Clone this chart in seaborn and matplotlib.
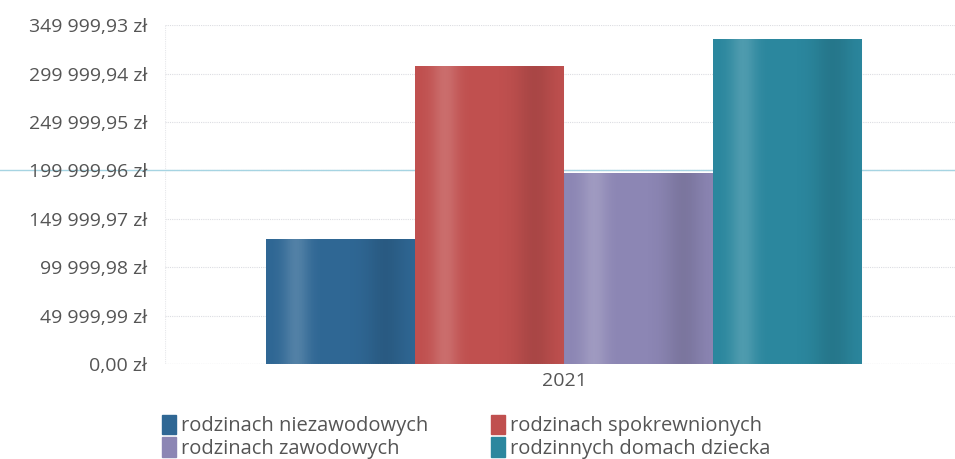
import numpy as np
import pandas as pd
import matplotlib
matplotlib.use("Agg")
import matplotlib.pyplot as plt
import seaborn as sns

years = ["2021", "2021", "2021", "2021"]
groups = ["rodzinach niezawodowych", "rodzinach spokrewnionych",
          "rodzinach zawodowych", "rodzinnych domach dziecka"]
values = [129500, 308000, 197500, 335500]
colors = ["#2f6794", "#c0504f", "#8c86b4", "#2b879e"]

tick_vals = [0.00, 49999.99, 99999.98, 149999.97, 199999.96, 249999.95, 299999.94, 349999.93]
tick_labels = ["0,00 zł", "49 999,99 zł", "99 999,98 zł", "149 999,97 zł",
               "199 999,96 zł", "249 999,95 zł", "299 999,94 zł", "349 999,93 zł"]

df = pd.DataFrame({"rok": years, "grupa": groups, "kwota": values})

sns.set_style("white")
plt.rcParams["font.family"] = ["Open Sans", "DejaVu Sans"]

fig = plt.figure(figsize=(9.55, 4.59), dpi=100)
ax = fig.add_axes([0.173, 0.207, 0.827, 0.738])

sns.barplot(data=df, x="rok", y="kwota", hue="grupa", hue_order=groups,
            palette=colors, width=0.755, saturation=1, ax=ax, legend=False,
            edgecolor="none")

# soft cylinder-like shading on each bar
xs = np.linspace(0, 1, 200)
shade = 0.17 * np.exp(-((xs - 0.2) / 0.09) ** 2) - 0.12 * np.exp(-((xs - 0.8) / 0.13) ** 2)
rgba = np.zeros((1, 200, 4))
rgba[0, :, :3] = (shade > 0)[:, None] * 1.0
rgba[0, :, 3] = np.abs(shade)
for p in ax.patches:
    x0, y0 = p.get_x(), p.get_y()
    im = ax.imshow(rgba, extent=(x0, x0 + p.get_width(), y0, y0 + p.get_height()),
                   aspect="auto", zorder=p.get_zorder() + 0.1, interpolation="bilinear")
    im.set_clip_path(p)
ax.set_xlim(-0.505, 0.495)
ax.set_ylim(0, 349999.93)

ax.set_yticks(tick_vals)
ax.set_yticklabels(tick_labels, fontsize=14, color="#555555")
ax.tick_params(axis="x", labelsize=14, labelcolor="#555555", length=0, pad=6)
ax.tick_params(axis="y", length=0, pad=13)
ax.set_xlabel("")
ax.set_ylabel("")
for s in ax.spines.values():
    s.set_visible(False)

for t in tick_vals[1:]:
    ax.axhline(t, color="#dcdde2", lw=0.8, ls=(0, (1, 1)), zorder=0)
ax.axhline(0, color="#9a9ca4", lw=0.8, ls=(0, (1, 1)), zorder=3)
ax.axvline(-0.505, color="#e6e7ea", lw=0.8, ls=(0, (1, 1)), zorder=0)
# blue line crossing the page at 199 999,96
ax.axhline(199999.96, xmin=-0.21, xmax=1.0, color="#a6d4e2", lw=1.0, zorder=0.5, clip_on=False)

handles = [plt.Rectangle((0, 0), 1, 1, color=colors[i]) for i in [0, 2, 1, 3]]
labels = [groups[i] for i in [0, 2, 1, 3]]
fig.legend(handles, labels, ncol=2, loc="lower left", bbox_to_anchor=(0.170, 0.0),
           frameon=False, fontsize=14.5, handlelength=0.7, handleheight=1.1,
           handletextpad=0.25, columnspacing=3.1, labelspacing=0.05,
           borderpad=0.0, borderaxespad=0.0, labelcolor="#555555")

fig.savefig("out.png", dpi=100)
